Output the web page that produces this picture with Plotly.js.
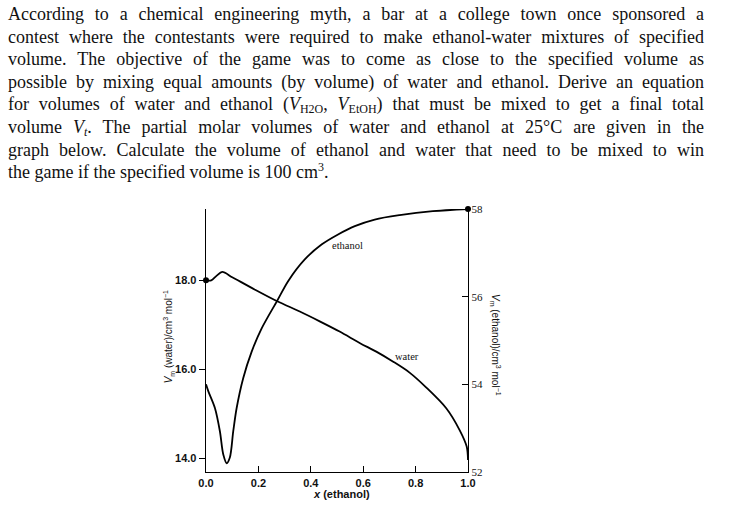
<!DOCTYPE html>
<html>
<head>
<meta charset="utf-8">
<script src="https://cdn.plot.ly/plotly-3.0.1.min.js"></script>
<style>
  html, body { margin: 0; padding: 0; background: #fff; }
  #wrap { position: relative; width: 733px; height: 521px; overflow: hidden; }
  #chart { position: absolute; left: 0; top: 0; width: 733px; height: 521px; }
  #para { position: absolute; left: 8px; top: 3px; width: 696px; z-index: 5;
          font-family: "Liberation Serif", "DejaVu Serif", serif; font-size: 18px;
          line-height: 22.6px; color: #111; pointer-events: none; }
  #para .ln { white-space: nowrap; text-align: justify; text-align-last: justify; }
  #para .last { text-align-last: left; }
  #para sub { font-size: 12px; vertical-align: -3px; line-height: 0; }
  #para sup { font-size: 12px; vertical-align: 7px; line-height: 0; }
</style>
</head>
<body>
<div id="wrap">
  <div id="chart"></div>
  <div id="para">
    <div class="ln">According to a chemical engineering myth, a bar at a college town once sponsored a</div>
    <div class="ln">contest where the contestants were required to make ethanol-water mixtures of specified</div>
    <div class="ln">volume. The objective of the game was to come as close to the specified volume as</div>
    <div class="ln">possible by mixing equal amounts (by volume) of water and ethanol. Derive an equation</div>
    <div class="ln">for volumes of water and ethanol (<i>V</i><sub>H2O</sub>, <i>V</i><sub>EtOH</sub>) that must be mixed to get a final total</div>
    <div class="ln">volume <i>V</i><sub><i>t</i></sub>. The partial molar volumes of water and ethanol at 25°C are given in the</div>
    <div class="ln">graph below. Calculate the volume of ethanol and water that need to be mixed to win</div>
    <div class="ln last">the game if the specified volume is 100 cm<sup>3</sup>.</div>
  </div>
</div>
<script>
// Mole fraction of ethanol and partial molar volumes (cm3/mol)
const waterX = [0, 0.02, 0.04, 0.062, 0.1, 0.187, 0.272, 0.358, 0.434, 0.51, 0.588, 0.65, 0.713, 0.777, 0.84, 0.917, 0.968, 0.995, 1.0];
const waterV = [18.0, 18.0, 18.1, 18.19, 18.07, 17.79, 17.53, 17.30, 17.08, 16.85, 16.59, 16.40, 16.18, 15.93, 15.60, 15.13, 14.64, 14.27, 13.97];

const ethanolX = [0, 0.009, 0.034, 0.053, 0.066, 0.079, 0.091, 0.104, 0.117, 0.142, 0.174, 0.212, 0.272, 0.314, 0.377, 0.441, 0.504, 0.568, 0.644, 0.739, 0.866, 1.0];
const ethanolV = [54.0, 53.84, 53.46, 52.93, 52.40, 52.2, 52.33, 52.93, 53.46, 54.14, 54.74, 55.27, 55.91, 56.36, 56.85, 57.19, 57.42, 57.61, 57.76, 57.86, 57.95, 58.0];

const xTicks = [0, 0.2, 0.4, 0.6, 0.8, 1.0];
const xTickLabels = ["0.0", "0.2", "0.4", "0.6", "0.8", "1.0"];
const waterTicks = [14, 16, 18];
const waterTickLabels = ["14.0", "16.0", "18.0"];
const ethanolTicks = [52, 54, 56, 58];
const ethanolTickLabels = ["52", "54", "56", "58"];

const sansNarrow = "Liberation Sans Narrow, Liberation Sans, Arial, sans-serif";
const serif = "Liberation Serif, Times New Roman, serif";

const traces = [
  { x: waterX, y: waterV, mode: "lines", yaxis: "y",
    line: { color: "#000", width: 1.8, shape: "spline", smoothing: 0.9 } },
  { x: ethanolX, y: ethanolV, mode: "lines", yaxis: "y2",
    line: { color: "#000", width: 1.8, shape: "spline", smoothing: 0.9 } },
  { x: [waterX[0]], y: [waterV[0]], mode: "markers", yaxis: "y", cliponaxis: false,
    marker: { color: "#000", size: 6 } },
  { x: [ethanolX[ethanolX.length - 1]], y: [ethanolV[ethanolV.length - 1]], mode: "markers", yaxis: "y2", cliponaxis: false,
    marker: { color: "#000", size: 6 } }
];

const layout = {
  width: 733, height: 521,
  margin: { l: 206, r: 265, t: 209, b: 49, pad: 0 },
  paper_bgcolor: "#fff", plot_bgcolor: "#fff",
  showlegend: false, hovermode: false,
  xaxis: {
    range: [0, 1.0], showgrid: false, zeroline: false,
    showline: true, linecolor: "#000", linewidth: 1.3,
    ticks: "inside", ticklen: 6, tickcolor: "#000", tickwidth: 1,
    tickvals: xTicks, ticktext: xTickLabels,
    tickfont: { family: sansNarrow, size: 11, color: "#111", weight: "bold" }
  },
  yaxis: {
    range: [13.70, 19.60], showgrid: false, zeroline: false,
    showline: true, linecolor: "#000", linewidth: 1.3,
    ticks: "outside", ticklen: 6, tickcolor: "#000", tickwidth: 1,
    tickvals: waterTicks, ticktext: waterTickLabels,
    tickfont: { family: sansNarrow, size: 11, color: "#111", weight: "bold" }
  },
  yaxis2: {
    overlaying: "y", side: "right",
    range: [52.0, 58.0], showgrid: false, zeroline: false,
    showline: true, linecolor: "#000", linewidth: 1.3,
    ticks: "inside", ticklen: 6, tickcolor: "#000", tickwidth: 1,
    tickvals: ethanolTicks, ticktext: ethanolTickLabels,
    tickfont: { family: serif, size: 11, color: "#111" }
  },
  annotations: [
    { text: "ethanol", xref: "x", yref: "y2", x: 0.541, y: 57.17, showarrow: false,
      xanchor: "center", yanchor: "middle",
      font: { family: serif, size: 10.5, color: "#111" } },
    { text: "water", xref: "x", yref: "y", x: 0.766, y: 16.29, showarrow: false,
      xanchor: "center", yanchor: "middle",
      font: { family: serif, size: 10.5, color: "#111" } },
    { text: "<i>x</i> (ethanol)", xref: "paper", yref: "paper", x: 0.518, y: -0.083, showarrow: false,
      xanchor: "center", yanchor: "middle",
      font: { family: sansNarrow, size: 11, color: "#111", weight: "bold" } },
    { text: "<i>V</i><sub>m</sub> (water)/cm<sup>3</sup> mol<sup>−1</sup>", xref: "paper", yref: "paper",
      x: -0.142, y: 0.515, textangle: -90, showarrow: false,
      xanchor: "center", yanchor: "middle",
      font: { family: sansNarrow, size: 10, color: "#111" } },
    { text: "<i>V</i><sub>m</sub> (ethanol)/cm<sup>3</sup> mol<sup>−1</sup>", xref: "paper", yref: "paper",
      x: 1.103, y: 0.483, textangle: 90, showarrow: false,
      xanchor: "center", yanchor: "middle",
      font: { family: sansNarrow, size: 10, color: "#111" } }
  ]
};

Plotly.newPlot("chart", traces, layout, { displayModeBar: false, staticPlot: true });
</script>
</body>
</html>
